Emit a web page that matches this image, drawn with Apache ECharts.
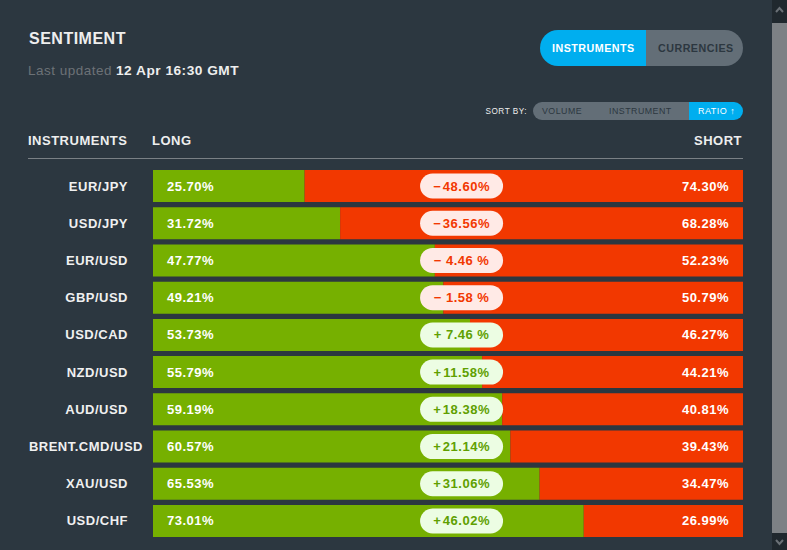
<!DOCTYPE html>
<html lang="en">
<head>
<meta charset="UTF-8">
<title>Sentiment</title>
<style>
    html, body {margin: 0; padding: 0; background: #2c3740; overflow: hidden;}
    #chart {width: 787px; height: 550px;}
    #chart text {letter-spacing: .5px;}
</style>
</head>
<body>
<div id="chart"></div>
<script src="https://cdn.jsdelivr.net/npm/echarts@6/dist/echarts.min.js"></script>
<script>
    var instruments = ['EUR/JPY', 'USD/JPY', 'EUR/USD', 'GBP/USD', 'USD/CAD', 'NZD/USD', 'AUD/USD', 'BRENT.CMD/USD', 'XAU/USD', 'USD/CHF'];
    var longPct = [25.70, 31.72, 47.77, 49.21, 53.73, 55.79, 59.19, 60.57, 65.53, 73.01];
    var shortPct = [74.30, 68.28, 52.23, 50.79, 46.27, 44.21, 40.81, 39.43, 34.47, 26.99];
    var netPct = [-48.60, -36.56, -4.46, -1.58, 7.46, 11.58, 18.38, 21.14, 31.06, 46.02];

    var GREEN = '#76b000', RED = '#f23800', BLUE = '#00aeef', SLATE = '#636e77';
    var FONT = '"Liberation Sans", Arial, sans-serif';
    var PILL_X = 52.3;  // pills sit in one column, a bit right of the middle
    var PILL = 'path://M12.5 0H70.5A12.5 12.5 0 0 1 70.5 25H12.5A12.5 12.5 0 0 1 12.5 0Z';

    function txt(x, y, s, size, color, weight, align) {
        return {
            type: 'text', x: x, y: y, silent: true,
            style: {text: s, font: (weight || 'bold') + ' ' + size + 'px ' + FONT, fill: color,
                    align: align || 'left', verticalAlign: 'middle'}
        };
    }
    function box(x, y, w, h, color, r) {
        return {type: 'rect', silent: true, shape: {x: x, y: y, width: w, height: h, r: r || 0}, style: {fill: color}};
    }
    function netText(v) {
        var abs = Math.abs(v);
        var sign = v < 0 ? '\u2212' : '+';
        return abs < 10 ? sign + ' ' + abs.toFixed(2) + ' %' : sign + '\u200a' + abs.toFixed(2) + '%';
    }

    var myChart = echarts.init(document.getElementById('chart'), null, {renderer: 'svg'});
    myChart.setOption({
        backgroundColor: '#2c3740',
        animation: false,
        grid: {left: 153, top: 167.4, width: 590, height: 372.2},
        xAxis: {type: 'value', min: 0, max: 100, show: false},
        yAxis: {
            type: 'category', inverse: true, data: instruments,
            axisLine: {show: false}, axisTick: {show: false},
            axisLabel: {
                color: '#f0f0f0', fontFamily: FONT, fontWeight: 'bold', fontSize: 13, margin: 10,
                // names end at x=128, only the long one runs on to 143
                formatter: function (v) { return v.length > 10 ? v : '{short|' + v + '}'; },
                rich: {short: {color: '#f0f0f0', fontFamily: FONT, fontWeight: 'bold', fontSize: 13, padding: [0, 15, 0, 0]}}
            }
        },
        series: [{
            name: 'Long', type: 'bar', stack: 'ratio', barWidth: 32, data: longPct,
            itemStyle: {color: GREEN},
            label: {show: true, position: 'insideLeft', distance: 14, color: '#fff', fontFamily: FONT, fontWeight: 'bold', fontSize: 13,
                formatter: function (p) { return p.value.toFixed(2) + '%'; }}
        }, {
            name: 'Short', type: 'bar', stack: 'ratio', barWidth: 32, data: shortPct,
            itemStyle: {color: RED},
            label: {show: true, position: 'insideRight', distance: 14, color: '#fff', fontFamily: FONT, fontWeight: 'bold', fontSize: 13,
                formatter: function (p) { return p.value.toFixed(2) + '%'; }}
        }, {
            name: 'Net', type: 'scatter', z: 5,
            symbol: PILL, symbolSize: [83, 25],
            data: netPct.map(function (v, i) {
                var up = v >= 0;
                return {
                    value: [PILL_X, i],
                    itemStyle: {color: up ? '#ecfde3' : '#ffeae6', opacity: 1},
                    label: {color: up ? '#5fa000' : '#f23800'}
                };
            }),
            label: {show: true, position: 'inside', fontFamily: FONT, fontWeight: 'bold', fontSize: 13,
                formatter: function (p) { return netText(netPct[p.dataIndex]); }}
        }],
        graphic: [
            txt(29, 38, 'SENTIMENT', 16, '#eeeeee'),
            txt(28, 70, 'Last updated', 13.5, '#6c7277', 'normal'),
            txt(116, 70, '12 Apr 16:30 GMT', 13.7, '#eeeeee'),

            box(540, 30, 106, 36, BLUE, [18, 0, 0, 18]),
            box(646, 30, 97, 36, SLATE, [0, 18, 18, 0]),
            txt(552, 48, 'INSTRUMENTS', 10.7, '#ffffff'),
            txt(658, 48, 'CURRENCIES', 10.7, '#2c3740'),

            txt(527, 111, 'SORT BY:', 8.2, '#eeeeee', 'normal', 'right'),
            box(533, 102, 156, 18, SLATE, [9, 0, 0, 9]),
            box(689, 102, 54, 18, BLUE, [0, 9, 9, 0]),
            txt(542, 111, 'VOLUME', 8.8, '#2c3740', 'normal'),
            txt(609, 111, 'INSTRUMENT', 8.8, '#2c3740', 'normal'),
            txt(698, 111, 'RATIO \u2191', 9, '#ffffff', 'normal'),

            txt(28, 140, 'INSTRUMENTS', 13, '#eeeeee'),
            txt(152, 140, 'LONG', 13, '#eeeeee'),
            txt(742, 140, 'SHORT', 13, '#eeeeee', 'bold', 'right'),
            box(28, 158, 715, 1, '#7a8085'),

            // scrollbar of the embedded page
            box(772, 0, 15, 550, '#2c3740'),
            box(772, 0, 15, 23, '#20282e'),
            box(772, 23, 15, 510, '#7d8185'),
            box(772, 533, 15, 17, '#20282e'),
            {type: 'polyline', silent: true, shape: {points: [[776, 12], [779.5, 8], [783, 12]]},
                style: {stroke: '#6a7076', lineWidth: 2, fill: 'none'}},
            {type: 'polyline', silent: true, shape: {points: [[776, 540], [779.5, 544], [783, 540]]},
                style: {stroke: '#6a7076', lineWidth: 2, fill: 'none'}}
        ]
    });
</script>
</body>
</html>
